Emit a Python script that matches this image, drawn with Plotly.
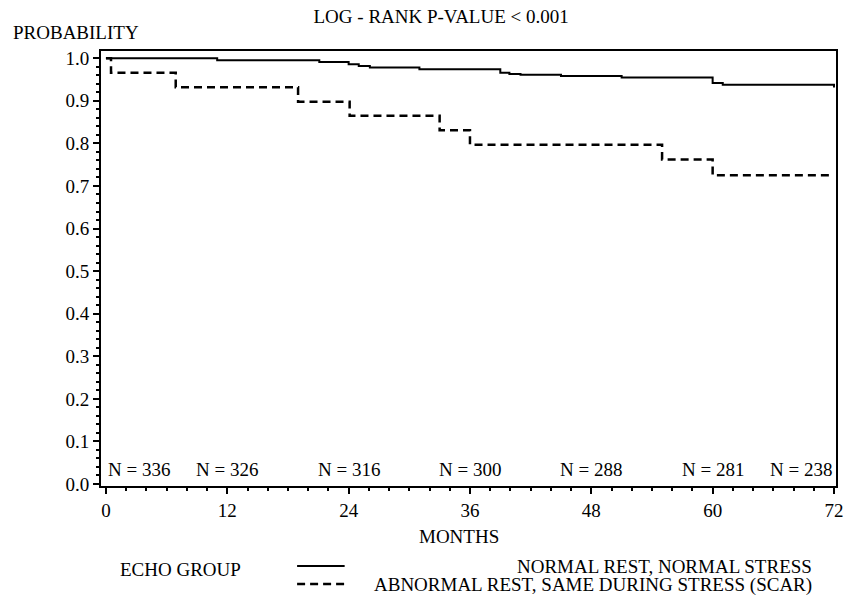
import plotly.graph_objects as go

# Kaplan-Meier step data (months, survival probability)
normal_months = [0, 11.0, 21.1, 24.0, 25.0, 26.1, 31.0, 39.0, 39.9, 41.0, 45.0, 51.0, 60.0, 61.0, 72.0]
normal_surv = [1.0, 0.995, 0.991, 0.986, 0.982, 0.978, 0.974, 0.966, 0.963, 0.961, 0.958, 0.955, 0.942, 0.938, 0.931]

scar_months = [0, 0.5, 6.9, 19.0, 24.1, 33.0, 36.0, 55.0, 60.0, 71.7]
scar_surv = [1.0, 0.966, 0.932, 0.898, 0.865, 0.831, 0.797, 0.762, 0.725, 0.725]

# Numbers at risk
risk_months = [0, 12, 24, 36, 48, 60, 72]
risk_n = [336, 326, 316, 300, 288, 281, 238]

x_ticks = [0, 12, 24, 36, 48, 60, 72]
y_ticks = [0.0, 0.1, 0.2, 0.3, 0.4, 0.5, 0.6, 0.7, 0.8, 0.9, 1.0]

series_names = ["NORMAL REST, NORMAL STRESS", "ABNORMAL REST, SAME DURING STRESS (SCAR)"]

FONT = "Liberation Serif, Times New Roman, serif"
FS = 19

fig = go.Figure()
fig.add_trace(go.Scatter(x=normal_months, y=normal_surv, mode="lines", line_shape="hv",
                         line=dict(color="black", width=2), name=series_names[0], showlegend=False))
fig.add_trace(go.Scatter(x=scar_months, y=scar_surv, mode="lines", line_shape="hv",
                         line=dict(color="black", width=2.5, dash="8px,5px"), name=series_names[1], showlegend=False))

# N at risk labels
for i, (m, n) in enumerate(zip(risk_months, risk_n)):
    anchor = "left" if i == 0 else ("right" if i == len(risk_months) - 1 else "center")
    fig.add_annotation(x=m, y=0.033, xref="x", yref="y", text=f"N = {n}", showarrow=False,
                       xanchor=anchor, yanchor="middle", font=dict(family=FONT, size=FS, color="black"))

# Axis titles / header
fig.add_annotation(x=-0.1226, y=1.0414, xref="paper", yref="paper", text="PROBABILITY", showarrow=False,
                   xanchor="left", yanchor="middle", font=dict(family=FONT, size=FS, color="black"))
fig.add_annotation(x=0.4865, y=-0.117, xref="paper", yref="paper", text="MONTHS", showarrow=False,
                   xanchor="center", yanchor="middle", font=dict(family=FONT, size=FS, color="black"))

# Legend (drawn manually)
fig.add_annotation(x=0.0229, y=-0.191, xref="paper", yref="paper", text="ECHO GROUP", showarrow=False,
                   xanchor="left", yanchor="middle", font=dict(family=FONT, size=FS, color="black"))
fig.add_shape(type="line", xref="paper", yref="paper", x0=0.2668, x1=0.3315, y0=-0.184, y1=-0.184,
              line=dict(color="black", width=2))
fig.add_shape(type="line", xref="paper", yref="paper", x0=0.2668, x1=0.3315, y0=-0.2253, y1=-0.2253,
              line=dict(color="black", width=2.5, dash="8px,5px"))
fig.add_annotation(x=0.9704, y=-0.184, xref="paper", yref="paper", text=series_names[0], showarrow=False,
                   xanchor="right", yanchor="middle", font=dict(family=FONT, size=FS, color="black"))
fig.add_annotation(x=0.9704, y=-0.2275, xref="paper", yref="paper", text=series_names[1], showarrow=False,
                   xanchor="right", yanchor="middle", font=dict(family=FONT, size=FS, color="black"))

fig.update_layout(
    width=850, height=598,
    margin=dict(l=101, r=7, t=51, b=112),
    paper_bgcolor="white", plot_bgcolor="white",
    title=dict(text="LOG - RANK P-VALUE < 0.001", x=0.519, y=0.973, xanchor="center", yanchor="middle",
               font=dict(family=FONT, size=FS, color="black")),
    font=dict(family=FONT, size=FS, color="black"),
    showlegend=False,
)
fig.update_xaxes(range=[-0.49, 72.2], tickvals=x_ticks, ticks="outside", ticklen=6, tickwidth=2,
                 tickcolor="black", showline=True, linecolor="black", linewidth=2, mirror=True,
                 showgrid=False, zeroline=False,
                 minor=dict(dtick=2, ticks="outside", ticklen=3, tickwidth=1.5, tickcolor="black", showgrid=False),
                 tickfont=dict(family=FONT, size=FS, color="black"))
fig.update_yaxes(range=[-0.0047, 1.017], tickvals=y_ticks, tickformat=".1f", ticks="outside", ticklen=6,
                 tickwidth=2, tickcolor="black", showline=True, linecolor="black", linewidth=2, mirror=True,
                 showgrid=False, zeroline=False,
                 minor=dict(dtick=0.02, ticks="outside", ticklen=3, tickwidth=1.5, tickcolor="black", showgrid=False),
                 tickfont=dict(family=FONT, size=FS, color="black"))

fig.write_html("out.html", config={"displayModeBar": False},
               post_script="document.body.style.margin='0';document.body.style.overflow='hidden';")
